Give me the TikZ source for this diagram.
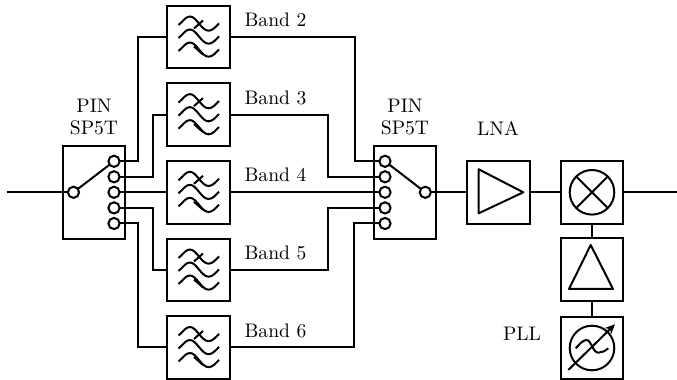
\documentclass[tikz,border=0pt]{standalone}
\usetikzlibrary{arrows.meta}
\tikzset{x=0.5pt,y=-0.5pt,
 blk/.style={draw,line width=1pt,minimum width=31.3pt,minimum height=31.3pt,inner sep=0pt,outer sep=0pt},
 swbox/.style={draw,line width=1pt,minimum width=31.3pt,minimum height=46.7pt,inner sep=0pt,outer sep=0pt},
 port/.style={circle,draw,fill=white,line width=1pt,minimum size=5.6pt,inner sep=0pt,outer sep=0pt},
 wire/.style={line width=1pt},
 sym/.style={line width=1pt},
 lbl/.style={inner sep=0pt,font=\fontsize{9.8}{12}\selectfont}}
\newcommand{\filtersym}[1]{%
 \foreach \dy in {-13,0,13}{
  \draw[sym,shift={(#1)}] (-20,1+\dy) .. controls (-15,-3+\dy) and (-13,-7.5+\dy) .. (-8.5,-7.5+\dy) .. controls (-2,-7.5+\dy) and (3,6.7+\dy) .. (10,6.7+\dy) .. controls (14,6.7+\dy) and (17,3+\dy) .. (20.5,-0.6+\dy);}
 \draw[sym,shift={(#1)}] (-4.5,-8.5) -- (4.5,-16.5);
 \draw[sym,shift={(#1)}] (-4.5,9.5) -- (4.5,17.5);}
\begin{document}
\begin{tikzpicture}
\useasboundingbox (0,0) rectangle (677,380);
\node[swbox] (sw1) at (94,192.3) {};
\node[swbox] (sw2) at (405,192.3) {};
\foreach \n/\y in {2/37,3/114.6,4/192.3,5/270,6/347.5}{
 \node[blk] (f\n) at (198.5,\y) {};
 \filtersym{f\n.center}
 \node[lbl] at (275.5,\y-17) {Band \n};
}
\foreach \i/\y in {1/161.3,2/176.8,3/192.3,4/207.9,5/223.5}{
 \coordinate (la\i) at (114,\y);
 \coordinate (ra\i) at (385,\y);
}
\coordinate (in) at (7,192.3);
\coordinate (out) at (677,192.3);
\coordinate (lin) at (73.5,192.3);
\coordinate (rout) at (425.3,192.3);
% wires
\draw[wire] (in) -- (lin);
\draw[wire] (la1) -- (138,161.3) |- (f2.west);
\draw[wire] (la2) -- (153,176.8) |- (f3.west);
\draw[wire] (la3) -- (f4.west);
\draw[wire] (la4) -- (153,207.9) |- (f5.west);
\draw[wire] (la5) -- (138,223.5) |- (f6.west);
\draw[wire] (f2.east) -- (355,37) |- (ra1);
\draw[wire] (f3.east) -- (328,114.6) |- (ra2);
\draw[wire] (f4.east) -- (ra3);
\draw[wire] (f5.east) -- (328,270) |- (ra4);
\draw[wire] (f6.east) -- (354,347.5) |- (ra5);
\draw[wire] (lin) -- (la1);
\draw[wire] (rout) -- (ra1);
\foreach \i in {1,...,5}{
 \node[port] (lp\i) at (la\i) {};
 \node[port] (rp\i) at (ra\i) {};
}
\node[port] (lpin) at (lin) {};
\node[port] (rpout) at (rout) {};
\node[blk] (lna) at (498.5,192.3) {};
\node[blk] (mix) at (592,192.3) {};
\node[blk] (amp) at (592,269.5) {};
\node[blk] (pll) at (592,348) {};
\draw[wire] (rpout) -- (lna.west);
\draw[wire] (lna.east) -- (mix.west);
\draw[wire] (mix.east) -- (out);
\draw[wire] (mix.south) -- (amp.north);
\draw[wire] (amp.south) -- (pll.north);
\draw[sym,line join=round] (478.7,169.3) -- (478.7,213.3) -- (523.3,192.3) -- cycle;
\draw[sym] (592,192.3) circle[radius=22.3];
\draw[sym] (576.2,176.5) -- (607.8,208.1) (576.2,208.1) -- (607.8,176.5);
\draw[sym,line join=round] (590.7,245) -- (569,289) -- (613,289) -- cycle;
\draw[sym] (592,348) circle[radius=22.3];
\draw[sym,-{Stealth[length=5pt,width=4.5pt]}] (568.3,370) -- (615,324.3);
\draw[sym] (575.7,348.3) .. controls (579,345) and (582.5,340) .. (586.7,340) .. controls (591,340) and (593,352.7) .. (598.3,352.7) .. controls (602,352.7) and (605,351) .. (608.3,348.3);
\node[lbl,align=center] at (94,117) {PIN\\[-0.9pt]SP5T};
\node[lbl,align=center] at (405,117) {PIN\\[-0.9pt]SP5T};
\node[lbl] at (498,128) {LNA};
\node[lbl] at (522,334) {PLL};
\end{tikzpicture}
\end{document}
